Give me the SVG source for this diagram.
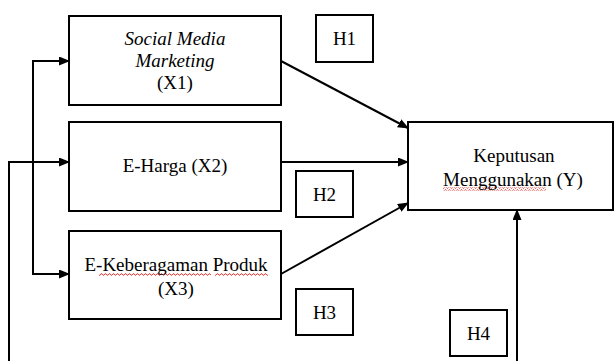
<svg xmlns="http://www.w3.org/2000/svg" width="615" height="361" viewBox="0 0 615 361">
  <style>
    .box { fill: #ffffff; stroke: #000000; stroke-width: 2; }
    .t { font-family: "Liberation Serif", "Times New Roman", serif; font-size: 19px; fill: #000000; text-anchor: middle; }
    .it { font-style: italic; }
    .con { fill: none; stroke: #000000; stroke-width: 2; }
  </style>
  <defs>
    <marker id="arr" markerUnits="userSpaceOnUse" markerWidth="11" markerHeight="10" refX="10" refY="4.5" orient="auto">
      <path d="M0,0 L11,4.5 L0,9 z" fill="#000000"/>
    </marker>
    <pattern id="sq" patternUnits="userSpaceOnUse" x="0" y="0" width="4" height="3">
      <path d="M0,2.2 L1,0.8 L2,0.8 L3,2.2 L4,2.2" fill="none" stroke="#e0302a" stroke-width="0.9"/>
    </pattern>
  </defs>
  <rect width="615" height="361" fill="#ffffff"/>

  <g id="connectors">
    <path class="con" d="M281,61 L408,128" marker-end="url(#arr)"/>
    <path class="con" d="M281,162 L408,162" marker-end="url(#arr)"/>
    <path class="con" d="M281,274 L408,203" marker-end="url(#arr)"/>
    <path class="con" d="M33,61 V274"/>
    <path class="con" d="M32,61 H69" marker-end="url(#arr)"/>
    <path class="con" d="M32,274 H69" marker-end="url(#arr)"/>
    <path class="con" d="M9,361 V162 H69" marker-end="url(#arr)"/>
    <path class="con" d="M517,361 V210" marker-end="url(#arr)"/>
  </g>

  <g id="x1">
    <rect class="box" x="69" y="16" width="212" height="89"/>
    <text class="t it" x="175" y="45">Social Media</text>
    <text class="t it" x="175" y="67">Marketing</text>
    <text class="t" x="175" y="89">(X1)</text>
  </g>

  <g id="x2">
    <rect class="box" x="69" y="122" width="212" height="89"/>
    <text class="t" x="175" y="172">E-Harga (X2)</text>
  </g>

  <g id="x3">
    <rect class="box" x="69" y="231" width="212" height="88"/>
    <rect x="99" y="273" width="112" height="3" fill="url(#sq)"/>
    <rect x="215" y="273" width="53" height="3" fill="url(#sq)"/>
    <text class="t" x="176" y="271">E-Keberagaman Produk</text>
    <text class="t" x="176" y="295">(X3)</text>
  </g>

  <g id="y">
    <rect class="box" x="408" y="122" width="205" height="88"/>
    <text class="t" x="514" y="162">Keputusan</text>
    <rect x="443" y="187.5" width="103" height="3" fill="url(#sq)"/>
    <text class="t" x="513" y="186">Menggunakan (Y)</text>
  </g>

  <g id="h1">
    <rect class="box" x="316" y="15" width="57" height="47"/>
    <text class="t" x="344.5" y="45">H1</text>
  </g>
  <g id="h2">
    <rect class="box" x="296" y="171" width="57" height="46"/>
    <text class="t" x="324.5" y="201">H2</text>
  </g>
  <g id="h3">
    <rect class="box" x="296" y="289" width="57" height="46"/>
    <text class="t" x="324.5" y="319">H3</text>
  </g>
  <g id="h4">
    <rect class="box" x="450" y="310" width="57" height="46"/>
    <text class="t" x="478.5" y="340">H4</text>
  </g>
</svg>
